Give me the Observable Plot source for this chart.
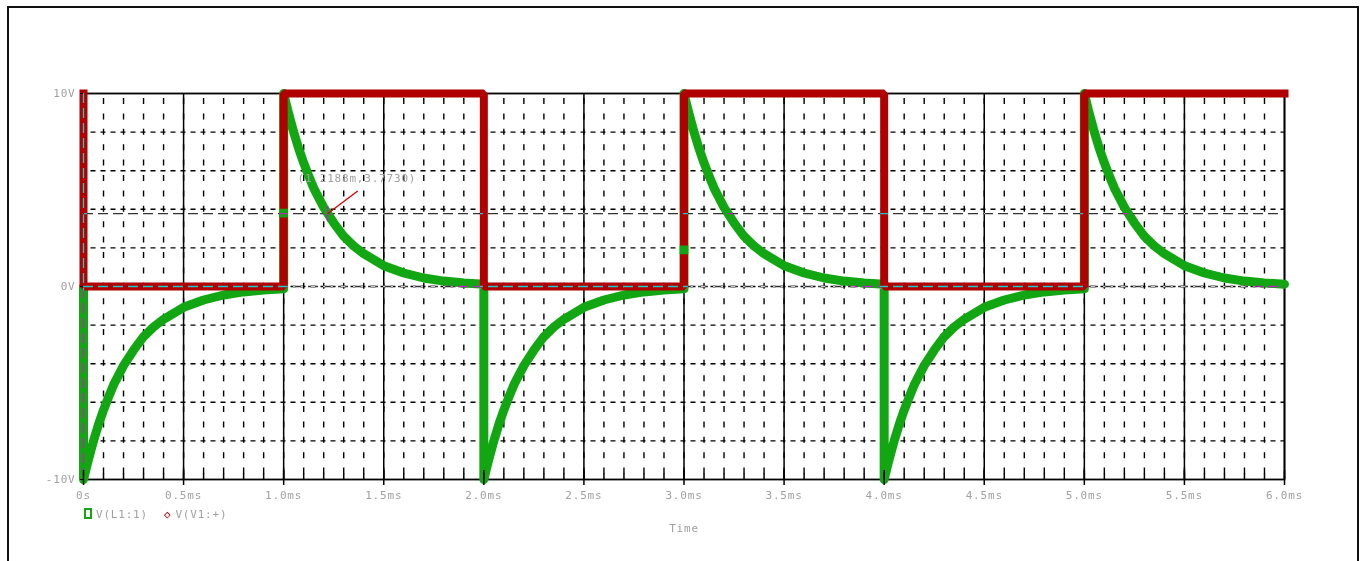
<!DOCTYPE html>
<html><head><meta charset="utf-8">
<script src="https://cdn.jsdelivr.net/npm/d3@7"></script>
<script src="https://cdn.jsdelivr.net/npm/@observablehq/plot@0.6"></script>
<style>
html,body{margin:0;padding:0;background:#fff;}
#wrap{position:relative;width:1365px;height:561px;overflow:hidden;background:#fff;}
#frame{position:absolute;left:7px;top:6px;width:1348px;height:620px;border:2px solid #111;pointer-events:none;}
#legend{position:absolute;left:84px;top:507px;font-family:"DejaVu Sans Mono",monospace;font-size:11px;letter-spacing:0.8px;color:#a0a0a0;white-space:nowrap;line-height:16px;}
#legend .sq{display:inline-block;width:4px;height:7px;border:2px solid #12a612;vertical-align:-1px;margin-right:4px;}
#legend .dm{color:#b00000;font-size:11px;margin-left:16px;margin-right:4px;}
</style>
</head><body>
<div id="wrap"><div id="chart"></div><div id="legend"><span class="sq"></span>V(L1:1)<span class="dm">&#9671;</span>V(V1:+)</div><div id="frame"></div></div>
<script>
// ---- tick values and labels ----
const xMajor = [0, 0.5, 1.0, 1.5, 2.0, 2.5, 3.0, 3.5, 4.0, 4.5, 5.0, 5.5, 6.0];
const xLabels = ["0s","0.5ms","1.0ms","1.5ms","2.0ms","2.5ms","3.0ms","3.5ms","4.0ms","4.5ms","5.0ms","5.5ms","6.0ms"];
const xMinor = [0.1,0.2,0.3,0.4,0.5,0.6,0.7,0.8,0.9,1.0,1.1,1.2,1.3,1.4,1.5,1.6,1.7,1.8,1.9,2.0,
  2.1,2.2,2.3,2.4,2.5,2.6,2.7,2.8,2.9,3.0,3.1,3.2,3.3,3.4,3.5,3.6,3.7,3.8,3.9,4.0,
  4.1,4.2,4.3,4.4,4.5,4.6,4.7,4.8,4.9,5.0,5.1,5.2,5.3,5.4,5.5,5.6,5.7,5.8,5.9];
const yTicks = [10, 0, -10];
const yLabels = ["10V", "0V", "-10V"];
const yGrid = [8, 6, 4, 2, 0, -2, -4, -6, -8];

// ---- series: V(V1:+) square wave (red) ----
const redTime  = [0, 0, 1, 1, 2, 2, 3, 3, 4, 4, 5, 5, 6];
const redVolts = [10, 0, 0, 10, 10, 0, 0, 10, 10, 0, 0, 10, 10];

// ---- series: V(L1:1) inductor voltage (green) ----
const greenTime = [0,
  0, 0.02, 0.05, 0.075, 0.1, 0.125, 0.15, 0.2, 0.25, 0.3, 0.35, 0.4, 0.5, 0.6, 0.7, 0.8, 0.9, 1.0,
  1.0, 1.02, 1.05, 1.075, 1.1, 1.125, 1.15, 1.2, 1.25, 1.3, 1.35, 1.4, 1.5, 1.6, 1.7, 1.8, 1.9, 2.0,
  2.0, 2.02, 2.05, 2.075, 2.1, 2.125, 2.15, 2.2, 2.25, 2.3, 2.35, 2.4, 2.5, 2.6, 2.7, 2.8, 2.9, 3.0,
  3.0, 3.02, 3.05, 3.075, 3.1, 3.125, 3.15, 3.2, 3.25, 3.3, 3.35, 3.4, 3.5, 3.6, 3.7, 3.8, 3.9, 4.0,
  4.0, 4.02, 4.05, 4.075, 4.1, 4.125, 4.15, 4.2, 4.25, 4.3, 4.35, 4.4, 4.5, 4.6, 4.7, 4.8, 4.9, 5.0,
  5.0, 5.02, 5.05, 5.075, 5.1, 5.125, 5.15, 5.2, 5.25, 5.3, 5.35, 5.4, 5.5, 5.6, 5.7, 5.8, 5.9, 6.0];
const greenVolts = [0,
  -10, -9.15, -8.0, -7.15, -6.4, -5.73, -5.1, -4.1, -3.3, -2.6, -2.1, -1.7, -1.08, -0.7, -0.44, -0.28, -0.18, -0.12,
  10, 9.15, 8.0, 7.15, 6.4, 5.73, 5.1, 4.1, 3.3, 2.6, 2.1, 1.7, 1.08, 0.7, 0.44, 0.28, 0.18, 0.12,
  -10, -9.15, -8.0, -7.15, -6.4, -5.73, -5.1, -4.1, -3.3, -2.6, -2.1, -1.7, -1.08, -0.7, -0.44, -0.28, -0.18, -0.12,
  10, 9.15, 8.0, 7.15, 6.4, 5.73, 5.1, 4.1, 3.3, 2.6, 2.1, 1.7, 1.08, 0.7, 0.44, 0.28, 0.18, 0.12,
  -10, -9.15, -8.0, -7.15, -6.4, -5.73, -5.1, -4.1, -3.3, -2.6, -2.1, -1.7, -1.08, -0.7, -0.44, -0.28, -0.18, -0.12,
  10, 9.15, 8.0, 7.15, 6.4, 5.73, 5.1, 4.1, 3.3, 2.6, 2.1, 1.7, 1.08, 0.7, 0.44, 0.28, 0.18, 0.12];

// trace symbols visible on the green trace
const greenMarkTime = [1.0, 3.0];
const greenMarkVolts = [3.8, 1.9];

// cursors and annotation
const cursorY = [3.773, 0];
const cursorX = [0];
const annotTime = [1.2188];
const annotVolts = [3.773];
const annotText = ["(1.2188m,3.7730)"];
const leaderEnd = [1.37, 4.95];

const GREEN = "#12a612", RED = "#b00000", TXT = "#a0a0a0";

const green = greenTime.map((t, i) => ({t, v: greenVolts[i]}));
const red = redTime.map((t, i) => ({t, v: redVolts[i]}));
const gMarks = greenMarkTime.map((t, i) => ({t, v: greenMarkVolts[i]}));
const annot = annotTime.map((t, i) => ({t, v: annotVolts[i], label: annotText[i], t2: leaderEnd[0], v2: leaderEnd[1]}));

const chart = Plot.plot({
  width: 1365, height: 561,
  marginLeft: 83, marginRight: 81, marginTop: 93, marginBottom: 82,
  x: {domain: [0, 6]},
  y: {domain: [-10, 10]},
  style: {fontFamily: "DejaVu Sans Mono", fontSize: "11px", letterSpacing: "0.8px", color: "#000", background: "#fff"},
  marks: [
    Plot.ruleX(xMinor, {stroke: "#000", strokeWidth: 1.4, strokeDasharray: "6 9.4", strokeDashoffset: 10.4}),
    Plot.ruleY(yGrid, {stroke: "#000", strokeWidth: 1.4, strokeDasharray: "5 5", strokeDashoffset: 2.5}),
    Plot.ruleX(xMajor, {stroke: "#000", strokeWidth: 1.5}),
    Plot.frame({stroke: "#000", strokeWidth: 1.8}),
    Plot.line(green, {x: "t", y: "v", stroke: GREEN, strokeWidth: 9}),
    Plot.line(red, {x: "t", y: "v", stroke: RED, strokeWidth: 8, strokeLinecap: "square", strokeLinejoin: "miter"}),
    Plot.dot(gMarks, {x: "t", y: "v", symbol: "square", r: 4, fill: GREEN, stroke: GREEN}),
    Plot.ruleY(cursorY, {stroke: "#cccccc", strokeWidth: 1.3, strokeDasharray: "10 5", ariaLabel: "cursor", mixBlendMode: "difference"}),
    Plot.ruleX(cursorX, {stroke: "#cccccc", strokeWidth: 1.3, strokeDasharray: "10 5", ariaLabel: "cursor", mixBlendMode: "difference"}),
    Plot.dot(annot, {x: "t", y: "v", symbol: "plus", r: 5, stroke: "#cccccc", strokeWidth: 1.3, ariaLabel: "cursor", mixBlendMode: "difference"}),
    Plot.link(annot, {x1: "t", y1: "v", x2: "t2", y2: "v2", stroke: "#d00000", strokeWidth: 1.3}),
    Plot.text(annot, {x: "t", y: "v", text: "label", dx: -30, dy: -35, textAnchor: "start", fill: TXT, fontSize: 11}),
    Plot.axisX(xMinor, {tickSize: -6, tickFormat: () => "", label: null, stroke: "#000", strokeWidth: 1.5}),
    Plot.axisX(xMajor, {tickSize: -9, tickFormat: () => "", label: null, stroke: "#000", strokeWidth: 1.5}),
    Plot.axisX(xMajor, {tickSize: 6, tickPadding: 6, tickFormat: d => xLabels[xMajor.indexOf(d)],
      stroke: "#000", strokeWidth: 1.5, fill: TXT, label: "Time", labelAnchor: "center", labelArrow: "none", labelOffset: 52}),
    Plot.axisY(yTicks, {tickSize: 3, tickPadding: 5, tickFormat: d => yLabels[yTicks.indexOf(d)], stroke: "#000", fill: TXT, label: null})
  ]
});
document.getElementById("chart").appendChild(chart);
chart.querySelectorAll('g[aria-label="cursor"]').forEach(g => g.style.mixBlendMode = "difference");
</script>
</body></html>
